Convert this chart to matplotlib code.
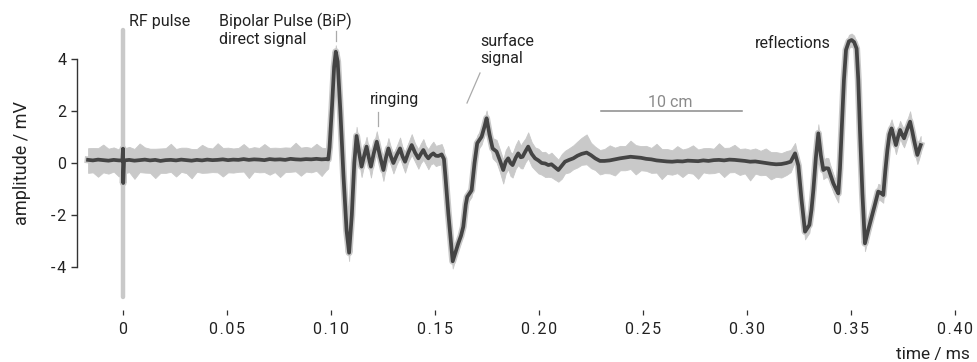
import numpy as np
import matplotlib
matplotlib.use("Agg")
import matplotlib.pyplot as plt

plt.rcParams['font.family'] = ['Roboto', 'DejaVu Sans']

# ---------------- data ----------------
# segment 1: baseline incl. RF pulse at t = 0
pre_t = [-0.0168, -0.0145, -0.0120, -0.0095, -0.0070, -0.0045, -0.0020, -0.0003, 0.0000, 0.0001,
         0.0005, 0.0030, 0.0055, 0.0080, 0.0105, 0.0130, 0.0155, 0.0180, 0.0205, 0.0230,
         0.0255, 0.0280, 0.0305, 0.0330, 0.0355, 0.0380, 0.0405, 0.0430, 0.0455, 0.0480,
         0.0505, 0.0530, 0.0555, 0.0580, 0.0605, 0.0630, 0.0655, 0.0680, 0.0705, 0.0730,
         0.0755, 0.0780, 0.0805, 0.0830, 0.0855, 0.0880, 0.0905, 0.0930, 0.0955, 0.0975,
         0.0987]
pre_v = [0.12, 0.10, 0.13, 0.11, 0.09, 0.12, 0.10, 0.10, 0.55, -0.77,
         0.10, 0.12, 0.09, 0.11, 0.13, 0.10, 0.12, 0.08, 0.11, 0.12,
         0.10, 0.13, 0.11, 0.09, 0.12, 0.10, 0.13, 0.11, 0.12, 0.14,
         0.11, 0.13, 0.12, 0.15, 0.12, 0.14, 0.13, 0.11, 0.15, 0.13,
         0.14, 0.12, 0.16, 0.14, 0.13, 0.15, 0.14, 0.16, 0.14, 0.15,
         0.14]
pre_hi = [0.45, 0.48, 0.44, 0.60, 0.46, 0.48, 0.42, 0.45, 0.10, 0.10,
          0.46, 0.50, 0.45, 0.64, 0.47, 0.45, 0.43, 0.48, 0.46, 0.62,
          0.44, 0.46, 0.48, 0.45, 0.42, 0.60, 0.46, 0.45, 0.64, 0.44,
          0.48, 0.43, 0.46, 0.58, 0.44, 0.47, 0.45, 0.62, 0.43, 0.46,
          0.44, 0.48, 0.43, 0.64, 0.46, 0.47, 0.44, 0.58, 0.45, 0.42,
          0.30]
pre_lo = [0.50, 0.46, 0.66, 0.47, 0.50, 0.45, 0.62, 0.45, 0.10, 0.10,
          0.50, 0.47, 0.70, 0.46, 0.50, 0.48, 0.70, 0.46, 0.49, 0.46,
          0.62, 0.47, 0.50, 0.68, 0.46, 0.48, 0.50, 0.46, 0.48, 0.66,
          0.47, 0.50, 0.46, 0.48, 0.70, 0.47, 0.49, 0.46, 0.60, 0.48,
          0.68, 0.47, 0.50, 0.46, 0.62, 0.48, 0.50, 0.46, 0.64, 0.45,
          0.35]

# segment 2: direct BiP signal, ringing, surface signal
bip_t = [0.0993, 0.1005, 0.1015, 0.1023, 0.1032, 0.1045, 0.1060, 0.1075, 0.1087, 0.1100,
         0.1112, 0.1123, 0.1135, 0.1147, 0.1160, 0.1171, 0.1182, 0.1192, 0.1205, 0.1220,
         0.1236, 0.1252, 0.1264, 0.1276, 0.1288, 0.1300, 0.1316, 0.1332, 0.1344, 0.1356,
         0.1372, 0.1388, 0.1404, 0.1420, 0.1432, 0.1444, 0.1456, 0.1468, 0.1480, 0.1492,
         0.1504, 0.1516, 0.1532, 0.1543, 0.1550, 0.1564, 0.1576, 0.1585, 0.1600, 0.1612,
         0.1625, 0.1636, 0.1648, 0.1655, 0.1668, 0.1676, 0.1690, 0.1703, 0.1724, 0.1738,
         0.1748, 0.1762, 0.1777, 0.1796, 0.1812, 0.1828, 0.1840, 0.1852, 0.1863, 0.1873,
         0.1888, 0.1900, 0.1912, 0.1921, 0.1935, 0.1948, 0.1965, 0.1981, 0.1997, 0.2013,
         0.2030, 0.2045, 0.2060, 0.2075, 0.2093, 0.2110, 0.2125, 0.2145, 0.2165, 0.2185,
         0.2205, 0.2229, 0.2250, 0.2270, 0.2293]
bip_v = [0.60, 2.20, 3.70, 4.28, 3.90, 2.00, -0.50, -2.60, -3.45, -2.00,
         0.00, 1.04, 0.40, -0.14, 0.30, 0.63, 0.20, -0.14, 0.35, 0.82,
         0.25, -0.27, 0.20, 0.56, 0.25, 0.00, 0.30, 0.56, 0.25, 0.05,
         0.40, 0.69, 0.40, 0.18, 0.35, 0.50, 0.30, 0.18, 0.30, 0.37,
         0.28, 0.27, 0.33, 0.15, -0.50, -1.93, -3.00, -3.78, -3.40, -3.09,
         -2.80, -2.45, -1.60, -1.30, -1.15, -1.05, 0.00, 0.76, 1.01, 1.40,
         1.72, 1.10, 0.56, 0.44, 0.10, -0.27, 0.05, 0.18, 0.00, -0.08,
         0.20, 0.37, 0.22, 0.24, 0.45, 0.63, 0.35, 0.18, 0.10, 0.00,
         -0.02, -0.08, -0.05, -0.15, -0.27, -0.10, 0.05, 0.12, 0.18, 0.28,
         0.35, 0.40, 0.30, 0.18, 0.08]
bip_hi = [0.25, 0.25, 0.25, 0.25, 0.25, 0.25, 0.25, 0.25, 0.25, 0.25,
          0.30, 0.35, 0.35, 0.35, 0.35, 0.38, 0.35, 0.35, 0.35, 0.40,
          0.35, 0.35, 0.35, 0.40, 0.35, 0.35, 0.35, 0.42, 0.35, 0.35,
          0.38, 0.42, 0.35, 0.35, 0.40, 0.42, 0.35, 0.35, 0.40, 0.45,
          0.38, 0.42, 0.40, 0.35, 0.30, 0.25, 0.25, 0.25, 0.25, 0.25,
          0.25, 0.25, 0.25, 0.25, 0.25, 0.25, 0.25, 0.30, 0.30, 0.30,
          0.30, 0.35, 0.40, 0.45, 0.42, 0.40, 0.45, 0.48, 0.42, 0.45,
          0.50, 0.52, 0.45, 0.55, 0.50, 0.55, 0.45, 0.42, 0.45, 0.42,
          0.45, 0.40, 0.45, 0.42, 0.40, 0.45, 0.42, 0.45, 0.50, 0.55,
          0.62, 0.70, 0.48, 0.45, 0.42]
bip_lo = [0.25, 0.25, 0.25, 0.25, 0.25, 0.25, 0.25, 0.28, 0.32, 0.25,
          0.30, 0.30, 0.35, 0.40, 0.35, 0.35, 0.35, 0.42, 0.35, 0.35,
          0.35, 0.42, 0.35, 0.35, 0.35, 0.40, 0.35, 0.35, 0.35, 0.42,
          0.35, 0.38, 0.35, 0.40, 0.35, 0.38, 0.35, 0.42, 0.35, 0.38,
          0.40, 0.35, 0.38, 0.35, 0.30, 0.25, 0.25, 0.28, 0.25, 0.25,
          0.25, 0.25, 0.25, 0.25, 0.25, 0.25, 0.25, 0.30, 0.30, 0.30,
          0.30, 0.35, 0.38, 0.42, 0.45, 0.52, 0.45, 0.42, 0.50, 0.48,
          0.42, 0.45, 0.42, 0.45, 0.42, 0.45, 0.48, 0.45, 0.50, 0.45,
          0.52, 0.45, 0.50, 0.48, 0.45, 0.50, 0.45, 0.48, 0.42, 0.45,
          0.42, 0.45, 0.50, 0.45, 0.52]

# segment 3: quiet part
mid_t = [0.2315, 0.2340, 0.2365, 0.2390, 0.2415, 0.2440, 0.2465, 0.2490, 0.2515, 0.2540,
         0.2565, 0.2590, 0.2615, 0.2640, 0.2665, 0.2690, 0.2715, 0.2740, 0.2765, 0.2790,
         0.2815, 0.2840, 0.2865, 0.2890, 0.2915, 0.2940, 0.2965, 0.2990, 0.3015, 0.3040,
         0.3065, 0.3090, 0.3115, 0.3140, 0.3165, 0.3190, 0.3210]
mid_v = [0.08, 0.10, 0.14, 0.18, 0.21, 0.24, 0.22, 0.20, 0.16, 0.14,
         0.10, 0.08, 0.06, 0.05, 0.07, 0.06, 0.09, 0.08, 0.07, 0.10,
         0.08, 0.11, 0.12, 0.10, 0.13, 0.12, 0.10, 0.08, 0.05, 0.06,
         0.03, 0.00, -0.03, -0.05, -0.04, 0.00, 0.05]
mid_hi = [0.46, 0.58, 0.45, 0.48, 0.44, 0.62, 0.47, 0.45, 0.50, 0.44,
          0.64, 0.46, 0.48, 0.44, 0.58, 0.46, 0.48, 0.60, 0.45, 0.47,
          0.50, 0.44, 0.64, 0.48, 0.46, 0.58, 0.44, 0.48, 0.46, 0.50,
          0.44, 0.56, 0.45, 0.47, 0.42, 0.46, 0.45]
mid_lo = [0.47, 0.50, 0.62, 0.46, 0.49, 0.47, 0.66, 0.48, 0.46, 0.52,
          0.47, 0.70, 0.48, 0.50, 0.46, 0.60, 0.47, 0.49, 0.68, 0.46,
          0.48, 0.50, 0.46, 0.64, 0.49, 0.47, 0.56, 0.48, 0.72, 0.47,
          0.50, 0.46, 0.60, 0.48, 0.52, 0.46, 0.40]

# segment 4: reflections
refl_t = [0.3231, 0.3247, 0.3262, 0.3279, 0.3290, 0.3300, 0.3310, 0.3319, 0.3331, 0.3343,
          0.3355, 0.3367, 0.3379, 0.3391, 0.3403, 0.3415, 0.3428, 0.3439, 0.3447, 0.3455,
          0.3466, 0.3476, 0.3490, 0.3503, 0.3515, 0.3527, 0.3535, 0.3543, 0.3555, 0.3567,
          0.3582, 0.3600, 0.3615, 0.3631, 0.3643, 0.3655, 0.3665, 0.3675, 0.3685, 0.3695,
          0.3706, 0.3716, 0.3726, 0.3736, 0.3745, 0.3755, 0.3770, 0.3784, 0.3795, 0.3803,
          0.3812, 0.3819, 0.3827, 0.3835]
refl_v = [0.37, -0.10, -1.40, -2.64, -2.50, -2.38, -1.80, -1.04, 0.20, 1.14,
          0.30, -0.27, -0.20, -0.21, -0.50, -0.78, -1.00, -1.17, -0.20, 1.27,
          3.20, 4.35, 4.68, 4.73, 4.65, 4.40, 3.20, 1.27, -1.20, -3.09,
          -2.60, -2.06, -1.60, -1.10, -1.15, -1.23, -0.30, 0.50, 1.10, 1.33,
          1.00, 0.69, 1.00, 1.27, 1.10, 0.95, 1.30, 1.59, 1.20, 0.88,
          0.55, 0.31, 0.50, 0.69]
refl_hi = [0.40, 0.30, 0.25, 0.25, 0.25, 0.25, 0.25, 0.25, 0.30, 0.35,
           0.35, 0.35, 0.40, 0.40, 0.35, 0.35, 0.30, 0.30, 0.25, 0.25,
           0.25, 0.25, 0.25, 0.25, 0.25, 0.25, 0.25, 0.25, 0.25, 0.25,
           0.25, 0.25, 0.30, 0.30, 0.30, 0.30, 0.30, 0.30, 0.35, 0.35,
           0.35, 0.35, 0.35, 0.35, 0.35, 0.35, 0.35, 0.40, 0.35, 0.35,
           0.35, 0.35, 0.35, 0.35]
refl_lo = [0.30, 0.30, 0.25, 0.30, 0.30, 0.30, 0.25, 0.25, 0.30, 0.30,
           0.35, 0.35, 0.35, 0.35, 0.35, 0.35, 0.35, 0.35, 0.25, 0.25,
           0.25, 0.25, 0.25, 0.25, 0.25, 0.25, 0.25, 0.25, 0.25, 0.30,
           0.30, 0.30, 0.30, 0.30, 0.30, 0.30, 0.30, 0.30, 0.30, 0.30,
           0.30, 0.35, 0.35, 0.30, 0.35, 0.35, 0.35, 0.35, 0.35, 0.35,
           0.35, 0.35, 0.35, 0.30]

rf_peak, rf_trough = 5.1, -5.15          # raw RF pulse extent (mV)
scalebar_t = [0.2298, 0.2976]            # 10 cm scale bar (ms)
scalebar_v = 2.0

HS = "\u200a"  # hair space, to mimic the tracked tick font
x_ticks = [0, 0.05, 0.10, 0.15, 0.20, 0.25, 0.30, 0.35, 0.40]
x_ticklabels = ["0", "0.05", "0.10", "0.15", "0.20", "0.25", "0.30", "0.35", "0.40"]
y_ticks = [-4, -2, 0, 2, 4]
y_ticklabels = ["-4", "-2", "0", "2", "4"]

# ---------------- assemble ----------------
t = np.array(pre_t + bip_t + mid_t + refl_t)
v = np.array(pre_v + bip_v + mid_v + refl_v)
hi = v + np.array(pre_hi + bip_hi + mid_hi + refl_hi)
lo = v - np.array(pre_lo + bip_lo + mid_lo + refl_lo)

DARK = "#444444"
LIGHT = "#c9c9c9"
TXT = "#222222"

W, H = 978, 362
fig = plt.figure(figsize=(W / 100, H / 100), dpi=100)
ax = fig.add_axes([77 / W, 62 / H, (960 - 77) / W, 275 / H])
ax.set_xlim((77 - 123) / 2080, (960 - 123) / 2080)
ax.set_ylim((163 - 300) / 26, (163 - 25) / 26)

# raw trace (light band)
ax.fill_between(t, lo, hi, color=LIGHT, lw=0.6, edgecolor=LIGHT, zorder=1)
ax.plot(t, v, color=LIGHT, lw=5.0, zorder=1.5, solid_joinstyle='round')
ax.plot([0, 0], [rf_trough, rf_peak], color=LIGHT, lw=3.2, solid_capstyle='round', zorder=1.6)
# averaged trace
ax.plot(t, v, color=DARK, lw=2.7, zorder=3, solid_joinstyle='round')

# axes styling
for s in ['top', 'right']:
    ax.spines[s].set_visible(False)
ax.spines['bottom'].set_color('none')
ax.spines['bottom'].set_position(('outward', 7.2))
ax.spines['left'].set_bounds(-4, 4)
ax.spines['left'].set_color('#333333')
ax.spines['left'].set_linewidth(1.0)
ax.set_xticks(x_ticks)
ax.set_xticklabels([HS.join(s) for s in x_ticklabels])
ax.set_yticks(y_ticks)
ax.set_yticklabels([HS.join(s) for s in y_ticklabels])
ax.tick_params(axis='x', length=3.6, width=0.9, color='#333333', pad=5, labelsize=11.5, labelcolor=TXT)
ax.tick_params(axis='y', length=4.3, width=1.0, color='#333333', pad=3.5, labelsize=11.5, labelcolor=TXT)

fig.text(22 / W, 1 - 163 / H, "amplitude / mV", rotation=90, ha='center', va='center',
         fontsize=13, color=TXT)
fig.text(970 / W, 1 - 355 / H, "time / ms", ha='right', va='center', fontsize=12.5, color=TXT)

# annotations
def px(xp, yp):
    return ((xp - 123) / 2080, (163 - yp) / 26)

ann_fs = 11.5
ax.text(*px(129, 26), "RF pulse", ha='left', va='baseline', fontsize=ann_fs, color=TXT)
ax.text(*px(219, 26), "Bipolar Pulse (BiP)", ha='left', va='baseline', fontsize=ann_fs, color=TXT)
ax.text(*px(219, 44), "direct signal", ha='left', va='baseline', fontsize=ann_fs, color=TXT)
ax.text(*px(370, 104), "ringing", ha='left', va='baseline', fontsize=ann_fs, color=TXT)
ax.text(*px(480, 46), "surface", ha='left', va='baseline', fontsize=ann_fs, color=TXT)
ax.text(*px(480, 63), "signal", ha='left', va='baseline', fontsize=ann_fs, color=TXT)
ax.text(*px(755, 48), "reflections", ha='left', va='baseline', fontsize=ann_fs, color=TXT)

LEAD = "#aaaaaa"
for (x0, y0), (x1, y1) in [((336, 31), (336, 41)), ((378, 112), (378, 126)), ((480, 73), (467, 103))]:
    a, b = px(x0, y0)
    c, d = px(x1, y1)
    ax.plot([a, c], [b, d], color=LEAD, lw=0.9, zorder=2)

# scale bar
ax.plot(scalebar_t, [scalebar_v, scalebar_v], color="#8a8a8a", lw=1.1, zorder=2)
ax.text(*px(648, 107), "10 cm", ha='left', va='baseline', fontsize=ann_fs, color="#8a8a8a")

fig.savefig("out.png", dpi=100)
